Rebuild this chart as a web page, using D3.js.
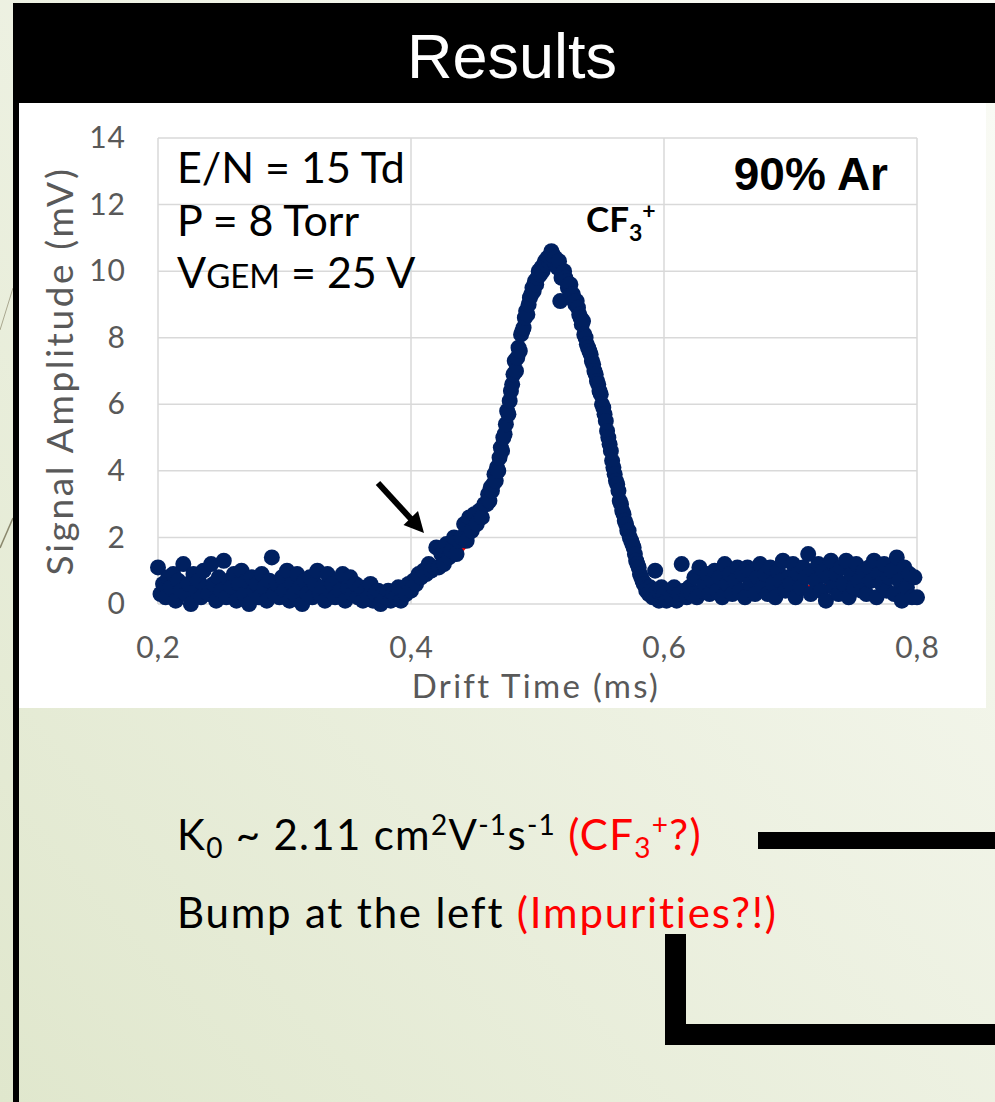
<!DOCTYPE html>
<html>
<head>
<meta charset="utf-8">
<script src="https://cdn.jsdelivr.net/npm/d3@7"></script>
<style>
  body { margin: 0; background: #fff; }
  svg { display: block; }
  text { white-space: pre; }
</style>
</head>
<body>
<svg id="slide" width="995" height="1102"></svg>
<script>
// drift time (ms) of each sample (finer sampling across the peak)
const driftTime = [
  0.200, 0.202, 0.204, 0.206, 0.208, 0.210, 0.212, 0.214, 0.216, 0.218,
  0.220, 0.222, 0.224, 0.226, 0.228, 0.230, 0.232, 0.234, 0.236, 0.238,
  0.240, 0.242, 0.244, 0.246, 0.248, 0.250, 0.252, 0.254, 0.256, 0.258,
  0.260, 0.262, 0.264, 0.266, 0.268, 0.270, 0.272, 0.274, 0.276, 0.278,
  0.280, 0.282, 0.284, 0.286, 0.288, 0.290, 0.292, 0.294, 0.296, 0.298,
  0.300, 0.302, 0.304, 0.306, 0.308, 0.310, 0.312, 0.314, 0.316, 0.318,
  0.320, 0.322, 0.324, 0.326, 0.328, 0.330, 0.332, 0.334, 0.336, 0.338,
  0.340, 0.342, 0.344, 0.346, 0.348, 0.350, 0.352, 0.354, 0.356, 0.358,
  0.360, 0.362, 0.364, 0.366, 0.368, 0.370, 0.372, 0.374, 0.376, 0.378,
  0.380, 0.382, 0.384, 0.386, 0.388, 0.390, 0.392, 0.394, 0.396, 0.398,
  0.400, 0.402, 0.404, 0.406, 0.408, 0.410, 0.412, 0.414, 0.416, 0.418,
  0.420, 0.422, 0.424, 0.426, 0.428, 0.430, 0.432, 0.434, 0.436, 0.438,
  0.440, 0.442, 0.444, 0.446, 0.448, 0.450, 0.452, 0.454, 0.456, 0.458,
  0.460, 0.461, 0.462, 0.463, 0.464, 0.465, 0.466, 0.467, 0.468, 0.469,
  0.470, 0.471, 0.472, 0.473, 0.474, 0.475, 0.476, 0.477, 0.478, 0.479,
  0.480, 0.481, 0.482, 0.483, 0.484, 0.485, 0.486, 0.487, 0.488, 0.489,
  0.490, 0.491, 0.492, 0.493, 0.494, 0.495, 0.496, 0.497, 0.498, 0.499,
  0.500, 0.501, 0.502, 0.503, 0.504, 0.505, 0.506, 0.507, 0.508, 0.509,
  0.510, 0.511, 0.512, 0.513, 0.514, 0.515, 0.516, 0.517, 0.518, 0.519,
  0.520, 0.521, 0.522, 0.523, 0.524, 0.525, 0.526, 0.527, 0.528, 0.529,
  0.530, 0.531, 0.532, 0.533, 0.534, 0.535, 0.536, 0.537, 0.538, 0.539,
  0.540, 0.541, 0.542, 0.543, 0.544, 0.545, 0.546, 0.547, 0.548, 0.549,
  0.550, 0.551, 0.552, 0.553, 0.554, 0.555, 0.556, 0.557, 0.558, 0.559,
  0.560, 0.561, 0.562, 0.563, 0.564, 0.565, 0.566, 0.567, 0.568, 0.569,
  0.570, 0.571, 0.572, 0.573, 0.574, 0.575, 0.576, 0.577, 0.578, 0.579,
  0.580, 0.581, 0.582, 0.583, 0.584, 0.585, 0.586, 0.587, 0.588, 0.589,
  0.590, 0.591, 0.592, 0.593, 0.594, 0.595, 0.596, 0.597, 0.598, 0.599,
  0.600, 0.602, 0.604, 0.606, 0.608, 0.610, 0.612, 0.614, 0.616, 0.618,
  0.620, 0.622, 0.624, 0.626, 0.628, 0.630, 0.632, 0.634, 0.636, 0.638,
  0.640, 0.642, 0.644, 0.646, 0.648, 0.650, 0.652, 0.654, 0.656, 0.658,
  0.660, 0.662, 0.664, 0.666, 0.668, 0.670, 0.672, 0.674, 0.676, 0.678,
  0.680, 0.682, 0.684, 0.686, 0.688, 0.690, 0.692, 0.694, 0.696, 0.698,
  0.700, 0.702, 0.704, 0.706, 0.708, 0.710, 0.712, 0.714, 0.716, 0.718,
  0.720, 0.722, 0.724, 0.726, 0.728, 0.730, 0.732, 0.734, 0.736, 0.738,
  0.740, 0.742, 0.744, 0.746, 0.748, 0.750, 0.752, 0.754, 0.756, 0.758,
  0.760, 0.762, 0.764, 0.766, 0.768, 0.770, 0.772, 0.774, 0.776, 0.778,
  0.780, 0.782, 0.784, 0.786, 0.788, 0.790, 0.792, 0.794, 0.796, 0.798,
  0.800
];

// signal amplitude (mV)
const amplitude = [
  1.1, 0.3, 0.6, 0.2, 0.8, 0.5, 0.9, 0.1, 0.7, 0.4,
  1.2, 0.3, 0.6, 0.0, 0.9, 0.4, 0.7, 0.2, 1.0, 0.5,
  0.3, 1.2, 0.6, 0.1, 0.8, 0.4, 1.3, 0.2, 0.7, 0.5,
  0.9, 0.1, 0.6, 1.0, 0.3, 0.7, 0.0, 0.8, 0.4, 0.6,
  0.2, 0.9, 0.5, 0.1, 0.7, 1.4, 0.3, 0.6, 0.2, 0.8,
  0.4, 1.0, 0.1, 0.6, 0.3, 0.9, 0.5, 0.0, 0.7, 0.3,
  0.8, 0.2, 0.6, 1.0, 0.3, 0.5, 0.1, 0.9, 0.4, 0.6,
  0.2, 0.7, 0.4, 0.9, 0.1, 0.5, 0.8, 0.3, 0.6, 0.2,
  0.5, 0.1, 0.4, 0.2, 0.6, 0.1, 0.3, 0.4, 0.0, 0.3,
  0.2, 0.4, 0.1, 0.3, 0.2, 0.5, 0.1, 0.4, 0.3, 0.6,
  0.4, 0.7, 0.6, 0.9, 0.8, 1.0, 0.9, 1.2, 1.0, 1.1,
  1.7, 1.1, 1.5, 1.2, 1.8, 1.4, 1.6, 2.0, 1.5, 1.9,
  2.0, 2.4, 1.9, 2.6, 2.2, 2.7, 2.4, 2.8, 2.6, 3.0,
  3.0, 3.3, 3.1, 3.5, 3.4, 3.6, 3.9, 3.7, 4.1, 4.0,
  4.4, 4.7, 4.6, 5.0, 5.1, 5.4, 5.8, 5.7, 6.1, 6.4,
  6.6, 6.9, 7.3, 7.0, 7.4, 7.7, 7.6, 8.1, 8.2, 8.3,
  8.6, 8.8, 8.7, 9.0, 9.2, 9.3, 9.5, 9.4, 9.7, 9.6,
  9.8, 10.0, 9.9, 10.1, 10.0, 10.2, 10.3, 10.2, 10.4, 10.3,
  10.4, 10.6, 10.5, 10.3, 10.4, 10.2, 10.1, 10.3, 9.1, 9.8,
  9.9, 10.0, 9.8, 9.7, 9.5, 9.6, 9.6, 9.3, 9.3, 9.1,
  9.0, 9.1, 8.9, 8.7, 8.6, 8.4, 8.5, 8.1, 8.0, 7.8,
  7.7, 7.6, 7.5, 7.3, 7.2, 7.0, 6.9, 6.7, 6.6, 6.4,
  6.3, 6.0, 5.9, 5.7, 5.5, 5.2, 5.0, 4.8, 4.6, 4.3,
  4.1, 3.9, 3.7, 3.6, 3.4, 3.1, 3.0, 2.8, 2.7, 2.5,
  2.4, 2.2, 2.2, 2.0, 1.9, 1.8, 1.7, 1.5, 1.3, 1.2,
  1.1, 0.9, 0.8, 0.7, 0.6, 0.6, 0.4, 0.5, 0.3, 0.5,
  0.4, 0.2, 0.3, 1.0, 0.2, 0.4, 0.1, 0.3, 0.5, 0.2,
  0.3, 0.1, 0.4, 0.2, 0.5, 0.1, 0.3, 1.2, 0.4, 0.2,
  0.5, 0.3, 0.8, 0.2, 1.1, 0.4, 0.6, 0.9, 0.3, 0.7,
  1.0, 0.4, 0.8, 0.2, 1.2, 0.6, 0.9, 0.3, 0.7, 1.1,
  0.4, 0.9, 0.2, 1.1, 0.6, 1.0, 0.3, 0.8, 1.2, 0.5,
  0.9, 0.3, 1.1, 0.6, 0.2, 1.0, 0.7, 1.3, 0.4, 0.8,
  0.6, 1.2, 0.2, 0.9, 0.5, 1.1, 0.8, 1.5, 0.3, 1.0,
  0.7, 1.2, 0.4, 1.0, 0.1, 0.8, 1.3, 0.5, 0.9, 0.3,
  1.1, 0.6, 1.3, 0.2, 0.9, 0.5, 1.2, 0.7, 0.4, 1.0,
  0.3, 1.1, 0.7, 1.3, 0.2, 0.9, 0.6, 1.2, 0.4, 0.8,
  1.0, 0.3, 1.4, 0.7, 0.1, 1.1, 0.5, 0.9, 0.2, 0.8,
  0.2
];

// red fit curve, mostly hidden under the points
const fitTime  = [0.20, 0.38, 0.40, 0.42, 0.44, 0.45, 0.46, 0.47, 0.48, 0.49, 0.50, 0.51,
                  0.52, 0.53, 0.54, 0.55, 0.56, 0.57, 0.58, 0.59, 0.60, 0.80];
const fitValue = [0.5, 0.4, 0.5, 1.0, 1.6, 2.1, 2.9, 4.3, 6.5, 8.5, 9.9, 10.3,
                  9.8, 8.9, 7.6, 6.1, 4.0, 2.4, 1.0, 0.45, 0.4, 0.7];

const xTicks = [0.2, 0.4, 0.6, 0.8];
const yTicks = [0, 2, 4, 6, 8, 10, 12, 14];
const conditions = ['E/N = 15 Td', 'P = 8 Torr'];

const W = 995, H = 1102;
const bodyFont = 'Lato, "Open Sans", sans-serif';
const svg = d3.select('#slide');

// slide background
const grad = svg.append('defs').append('linearGradient')
  .attr('id', 'bg').attr('x1', 0).attr('y1', 1).attr('x2', 1).attr('y2', 0);
grad.append('stop').attr('offset', 0).attr('stop-color', '#e0e7cd');
grad.append('stop').attr('offset', 1).attr('stop-color', '#fafbf6');
svg.append('rect').attr('width', W).attr('height', H).attr('fill', 'url(#bg)');

svg.append('line').attr('x1', 0).attr('y1', 548).attr('x2', 13).attr('y2', 518)
  .attr('stroke', '#8a876c').attr('stroke-width', 1.5);
svg.append('line').attr('x1', 0).attr('y1', 330).attr('x2', 13).attr('y2', 288)
  .attr('stroke', '#a9a78f').attr('stroke-width', 1);

// left rule + title bar
svg.append('rect').attr('x', 13).attr('y', 3).attr('width', 6).attr('height', H).attr('fill', '#000');
svg.append('rect').attr('x', 13).attr('y', 3).attr('width', W - 13).attr('height', 100).attr('fill', '#000');
svg.append('text')
  .attr('x', 512).attr('y', 78).attr('text-anchor', 'middle')
  .attr('fill', '#fff')
  .style('font', '63px "Liberation Sans", Arial, sans-serif')
  .text('Results');

// white chart panel
svg.append('rect').attr('x', 19).attr('y', 103).attr('width', 967).attr('height', 605).attr('fill', '#fff');

// plot
const plotL = 158, plotR = 917, plotT = 138, plotB = 604;
const x = d3.scaleLinear().domain([0.2, 0.8]).range([plotL, plotR]);
const y = d3.scaleLinear().domain([0, 14]).range([plotB, plotT]);

const grid = svg.append('g').attr('stroke', '#d9d9d9').attr('stroke-width', 1.5);
grid.selectAll('.h').data(yTicks).enter().append('line')
  .attr('x1', plotL).attr('x2', plotR)
  .attr('y1', d => y(d)).attr('y2', d => y(d));
grid.selectAll('.v').data(xTicks).enter().append('line')
  .attr('x1', d => x(d)).attr('x2', d => x(d))
  .attr('y1', plotT).attr('y2', plotB);

const yAxis = svg.append('g')
  .attr('transform', `translate(${plotL},0)`)
  .call(d3.axisLeft(y).tickValues(yTicks).tickSize(0).tickPadding(32));
const xAxis = svg.append('g')
  .attr('transform', `translate(0,${plotB})`)
  .call(d3.axisBottom(x).tickValues(xTicks).tickSize(0).tickPadding(33)
    .tickFormat(d => d3.format('.1f')(d).replace('.', ',')));
[yAxis, xAxis].forEach(a => {
  a.select('.domain').remove();
  a.selectAll('text').attr('fill', '#595959')
    .style('font', `30px ${bodyFont}`).style('letter-spacing', '1px');
});

svg.append('text')
  .attr('transform', `translate(73,${(plotT + plotB) / 2}) rotate(-90)`)
  .attr('text-anchor', 'middle').attr('fill', '#595959')
  .style('font', `37px ${bodyFont}`).style('letter-spacing', '2.6px')
  .text('Signal Amplitude (mV)');
svg.append('text')
  .attr('x', 536).attr('y', 698).attr('text-anchor', 'middle').attr('fill', '#595959')
  .style('font', `33px ${bodyFont}`).style('letter-spacing', '2.3px')
  .text('Drift Time (ms)');

// fit line and data points
const fitLine = d3.line().x((d, i) => x(fitTime[i])).y(d => y(d)).curve(d3.curveMonotoneX);
svg.append('path').datum(fitValue)
  .attr('d', fitLine).attr('fill', 'none')
  .attr('stroke', '#ff0000').attr('stroke-width', 3.5);

svg.append('g').selectAll('circle')
  .data(amplitude).enter().append('circle')
  .attr('cx', (d, i) => x(driftTime[i]))
  .attr('cy', d => y(d))
  .attr('r', 8)
  .attr('fill', '#002060');

// conditions box
const cond = svg.append('g').style('font', `43px ${bodyFont}`).attr('fill', '#000');
cond.selectAll('text').data(conditions).enter().append('text')
  .attr('x', 177).attr('y', (d, i) => 183 + i * 53)
  .text(d => d);
const vgem = cond.append('text').attr('x', 177).attr('y', 288);
vgem.append('tspan').text('V');
vgem.append('tspan').style('font-size', '33px').text('GEM');
vgem.append('tspan').text(' = 25 V');

svg.append('text')
  .attr('x', 888).attr('y', 190).attr('text-anchor', 'end')
  .style('font', 'bold 46px "Liberation Sans", Arial, sans-serif')
  .text('90% Ar');

const cf = svg.append('text').attr('x', 586).attr('y', 232)
  .style('font', `bold 35px ${bodyFont}`);
cf.append('tspan').text('CF');
cf.append('tspan').attr('dy', 9).style('font-size', '23px').text('3');
cf.append('tspan').attr('dy', -22).style('font-size', '23px').text('+');

// arrow towards the left shoulder
svg.append('line').attr('x1', 378).attr('y1', 483).attr('x2', 411).attr('y2', 519)
  .attr('stroke', '#000').attr('stroke-width', 6);
svg.append('path').attr('d', 'M424,533 L403.5,525 L418,511 Z').attr('fill', '#000');

// notes below the chart
function richText(xp, yp, parts, spacing) {
  const t = svg.append('text').attr('x', xp).attr('y', yp)
    .style('font', `42px ${bodyFont}`).style('letter-spacing', spacing + 'px');
  let shift = 0;
  parts.forEach(([str, size, s, color]) => {
    t.append('tspan')
      .attr('dy', s - shift)
      .style('font-size', size + 'px')
      .attr('fill', color || '#000')
      .text(str);
    shift = s;
  });
}
richText(177, 850, [
  ['K', 42, 0], ['0', 28, 8], [' ~ 2.11 cm', 42, 0], ['2', 28, -15], ['V', 42, 0],
  ['-1', 28, -15], ['s', 42, 0], ['-1', 28, -15], [' (CF', 42, 0, '#ff0000'],
  ['3', 28, 8, '#ff0000'], ['+', 28, -15, '#ff0000'], ['?)', 42, 0, '#ff0000']
], 1.3);
richText(177, 928, [
  ['Bump at the left ', 42, 0], ['(Impurities?!)', 42, 0, '#ff0000']
], 1.8);

// black frame strokes, bottom right
svg.append('rect').attr('x', 758).attr('y', 832).attr('width', W - 758).attr('height', 17).attr('fill', '#000');
svg.append('rect').attr('x', 665).attr('y', 934).attr('width', 21).attr('height', 111).attr('fill', '#000');
svg.append('rect').attr('x', 665).attr('y', 1024).attr('width', W - 665).attr('height', 21).attr('fill', '#000');
</script>
</body>
</html>
